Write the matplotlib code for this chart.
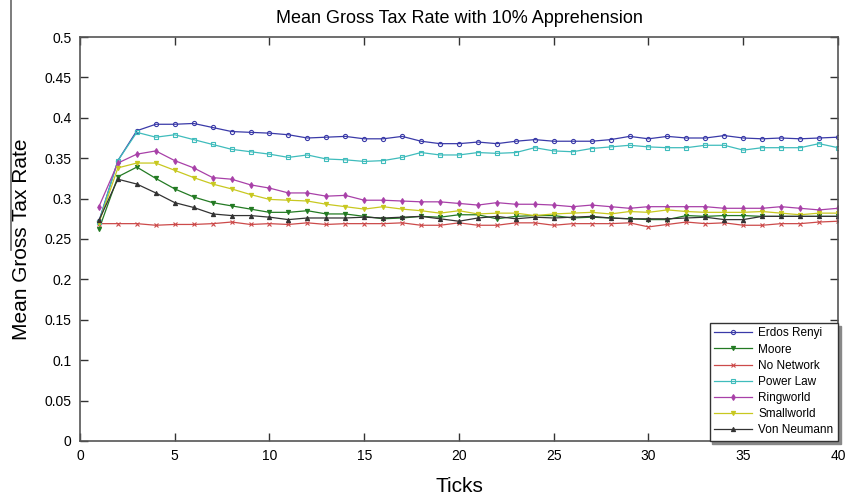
import matplotlib
matplotlib.use("Agg")
import matplotlib.pyplot as plt
from matplotlib.lines import Line2D

plt.rcParams['font.family'] = ['Liberation Sans', 'DejaVu Sans']

# ticks 1..40
ticks = list(range(1, 41))

erdos_renyi = [0.272, 0.347, 0.384, 0.392, 0.392, 0.393, 0.388, 0.383, 0.382, 0.381,
               0.379, 0.375, 0.376, 0.377, 0.374, 0.374, 0.377, 0.371, 0.368, 0.368,
               0.370, 0.368, 0.371, 0.373, 0.371, 0.371, 0.371, 0.373, 0.377, 0.374,
               0.377, 0.375, 0.375, 0.378, 0.375, 0.374, 0.375, 0.374, 0.375, 0.376]
moore = [0.262, 0.327, 0.339, 0.325, 0.312, 0.302, 0.295, 0.291, 0.287, 0.283,
         0.283, 0.285, 0.281, 0.281, 0.278, 0.275, 0.276, 0.278, 0.277, 0.280,
         0.280, 0.275, 0.278, 0.279, 0.279, 0.276, 0.277, 0.276, 0.275, 0.274,
         0.274, 0.279, 0.278, 0.279, 0.279, 0.278, 0.278, 0.278, 0.278, 0.278]
no_network = [0.269, 0.269, 0.269, 0.267, 0.268, 0.268, 0.269, 0.271, 0.268, 0.269,
              0.268, 0.270, 0.268, 0.269, 0.269, 0.269, 0.270, 0.267, 0.267, 0.270,
              0.267, 0.267, 0.270, 0.270, 0.267, 0.269, 0.269, 0.269, 0.270, 0.265,
              0.268, 0.271, 0.269, 0.270, 0.267, 0.267, 0.269, 0.269, 0.271, 0.272]
power_law = [0.271, 0.347, 0.382, 0.376, 0.379, 0.373, 0.367, 0.361, 0.358, 0.355,
             0.351, 0.354, 0.349, 0.348, 0.346, 0.347, 0.351, 0.357, 0.354, 0.354,
             0.357, 0.356, 0.357, 0.363, 0.359, 0.358, 0.362, 0.364, 0.366, 0.364,
             0.363, 0.363, 0.366, 0.366, 0.360, 0.363, 0.363, 0.363, 0.368, 0.363]
ringworld = [0.290, 0.344, 0.355, 0.359, 0.347, 0.338, 0.326, 0.324, 0.317, 0.313,
             0.307, 0.307, 0.303, 0.304, 0.298, 0.298, 0.297, 0.296, 0.296, 0.294,
             0.292, 0.295, 0.293, 0.293, 0.292, 0.290, 0.292, 0.290, 0.288, 0.290,
             0.290, 0.290, 0.290, 0.288, 0.288, 0.288, 0.290, 0.288, 0.286, 0.288]
smallworld = [0.270, 0.338, 0.344, 0.344, 0.335, 0.326, 0.318, 0.312, 0.305, 0.299,
              0.298, 0.297, 0.293, 0.290, 0.287, 0.290, 0.287, 0.285, 0.282, 0.285,
              0.281, 0.282, 0.282, 0.279, 0.281, 0.282, 0.283, 0.281, 0.284, 0.283,
              0.286, 0.284, 0.283, 0.283, 0.283, 0.284, 0.282, 0.280, 0.282, 0.282]
von_neumann = [0.273, 0.324, 0.318, 0.307, 0.295, 0.289, 0.281, 0.279, 0.279, 0.277,
               0.274, 0.276, 0.276, 0.276, 0.277, 0.276, 0.277, 0.278, 0.275, 0.272,
               0.276, 0.278, 0.275, 0.277, 0.276, 0.277, 0.278, 0.276, 0.275, 0.275,
               0.275, 0.276, 0.277, 0.274, 0.274, 0.278, 0.278, 0.278, 0.278, 0.278]

series = [
    ('Erdos Renyi', erdos_renyi, '#3a3aa8', 'o', 'none'),
    ('Moore', moore, '#237a23', 'v', 'full'),
    ('No Network', no_network, '#cc4a4a', 'x', 'full'),
    ('Power Law', power_law, '#3fbcbc', 's', 'none'),
    ('Ringworld', ringworld, '#a840a8', 'd', 'full'),
    ('Smallworld', smallworld, '#c8c820', 'v', 'full'),
    ('Von Neumann', von_neumann, '#333333', '^', 'full'),
]

fig = plt.figure(figsize=(8.49, 4.96), dpi=100)
ax = fig.add_axes([0.0942, 0.1109, 0.8928, 0.8145])

for name, vals, color, marker, fill in series:
    ax.plot(ticks, vals, color=color, linewidth=0.9, marker=marker, markersize=3.0,
            markerfacecolor=(color if fill == 'full' else 'none'),
            markeredgecolor=color, markeredgewidth=0.8, label=name)

ax.set_xlim(0, 40)
ax.set_ylim(0, 0.5)
ax.set_xticks(range(0, 41, 5))
ax.set_yticks([i * 0.05 for i in range(11)])
ax.set_yticklabels(['0', '0.05', '0.1', '0.15', '0.2', '0.25', '0.3', '0.35', '0.4', '0.45', '0.5'])
ax.tick_params(direction='in', length=6, width=1, top=True, right=True, labelsize=10,
               colors='#333333', labelcolor='black', pad=6)
for sp in ax.spines.values():
    sp.set_color('#555555')
    sp.set_linewidth(1.2)

ax.set_title('Mean Gross Tax Rate with 10% Apprehension', fontsize=13, pad=10)
ax.set_xlabel('Ticks', fontsize=15, labelpad=10)
ax.set_ylabel('Mean Gross Tax Rate', fontsize=15, labelpad=10)

leg = ax.legend(loc='lower right', fontsize=8.5, frameon=True, fancybox=False,
                shadow={'ox': 2, 'oy': -2, 'color': '#888888', 'alpha': 1},
                borderaxespad=0.0, handlelength=3.2, labelspacing=0.35, borderpad=0.4,
                handletextpad=0.5)
leg.get_frame().set_edgecolor('#333333')
leg.get_frame().set_linewidth(1.0)

# stray vertical line at the left edge of the figure
fig.add_artist(Line2D([0.0125, 0.0125], [1.0, 0.495], color='#666666', linewidth=1.2,
                      transform=fig.transFigure))

fig.savefig('out.png', dpi=100)
